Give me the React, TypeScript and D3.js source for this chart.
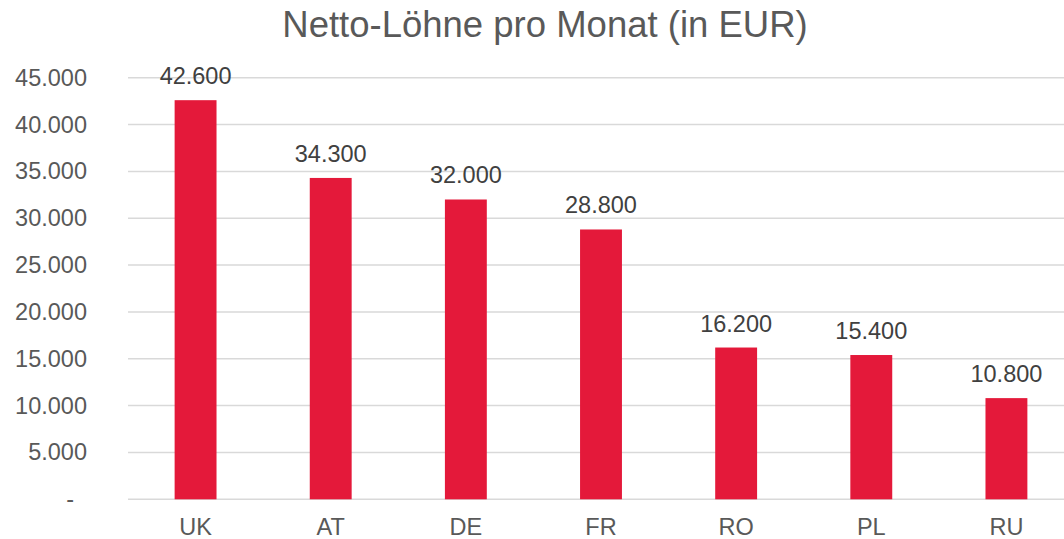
import React from "react";
import * as d3 from "d3";

const categories = ["UK", "AT", "DE", "FR", "RO", "PL", "RU"];
const values = [42600, 34300, 32000, 28800, 16200, 15400, 10800];
const yTicks = [0, 5000, 10000, 15000, 20000, 25000, 30000, 35000, 40000, 45000];
const title = "Netto-Löhne pro Monat (in EUR)";

const W = 1064;
const H = 539;
const left = 128;
const right = 1074;
const top = 77.7;
const bottom = 499.3;

const fmt = (v: number) =>
  v === 0 ? "-" : d3.format(",")(v).replace(/,/g, ".");

export default function App() {
  const x = d3.scaleBand<string>().domain(categories).range([left, right]).paddingInner(0.69).paddingOuter(0.345);
  const y = d3.scaleLinear().domain([0, 45000]).range([bottom, top]);
  const font = "'Liberation Sans', Arial, sans-serif";
  const grey = "#595959";
  return (
    <svg width={W} height={H} style={{ position: "absolute", left: 0, top: 0 }} fontFamily={font}>
      <rect x={0} y={0} width={W} height={H} fill="#fff" />
      <text x={545} y={37} textAnchor="middle" fontSize={36.5} fill={grey}>{title}</text>
      {yTicks.map((t) => (
        <g key={t}>
          <line x1={left} x2={right} y1={y(t)} y2={y(t)} stroke="#d9d9d9" strokeWidth={1.5} />
          <text x={t === 0 ? 74 : 87} y={y(t) + 8} textAnchor="end" fontSize={23.5} fill={grey}>{fmt(t)}</text>
        </g>
      ))}
      {categories.map((c, i) => (
        <g key={c}>
          <rect x={x(c)} y={y(values[i])} width={x.bandwidth()} height={bottom - y(values[i])} fill="#E4193A" />
          <text x={(x(c) as number) + x.bandwidth() / 2} y={y(values[i]) - 16} textAnchor="middle" fontSize={23.5} fill="#404040">{fmt(values[i])}</text>
          <text x={(x(c) as number) + x.bandwidth() / 2} y={535} textAnchor="middle" fontSize={23.5} fill={grey}>{c}</text>
        </g>
      ))}
    </svg>
  );
}
